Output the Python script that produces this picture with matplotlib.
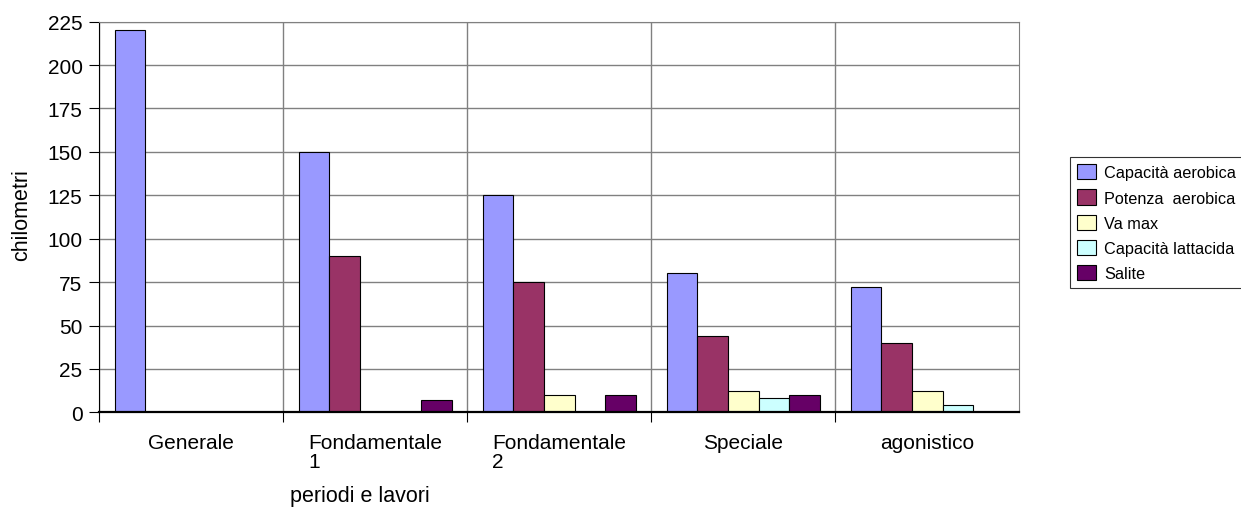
import numpy as np
import matplotlib
matplotlib.use("Agg")
import matplotlib.pyplot as plt

plt.rcParams['font.family'] = ['Liberation Sans', 'DejaVu Sans']

# Chilometri per periodo e tipo di lavoro
periodi = ["Generale", "Fondamentale\n1", "Fondamentale\n2", "Speciale", "agonistico"]
lavori = ["Capacità aerobica", "Potenza  aerobica", "Va max", "Capacità lattacida", "Salite"]
capacita_aerobica = [220, 150, 125, 80, 72]
potenza_aerobica = [0, 90, 75, 44, 40]
va_max = [0, 0, 10, 12, 12]
capacita_lattacida = [0, 0, 0, 8, 4]
salite = [0, 7, 10, 10, 0]
colori = ["#9999FF", "#993366", "#FFFFCC", "#CCFFFF", "#660066"]

serie = [capacita_aerobica, potenza_aerobica, va_max, capacita_lattacida, salite]

fig = plt.figure(figsize=(12.41, 5.10), dpi=100)
ax = fig.add_axes([0.080, 0.1896, 0.7413, 0.7659])

x = np.arange(len(periodi))
larghezza = 1 / 6
for i, (valori, nome, col) in enumerate(zip(serie, lavori, colori)):
    ax.bar(x + (i - 2) * larghezza, valori, width=larghezza, color=col,
           edgecolor="black", linewidth=0.8, label=nome, zorder=2)

ax.set_xlim(-0.5, len(periodi) - 0.5)
ax.set_ylim(0, 225)
ax.set_yticks(np.arange(0, 226, 25))

# etichette al centro delle categorie, tacche ai bordi (non sull'ultimo)
ax.set_xticks(x)
ax.set_xticklabels(periodi, fontsize=15, multialignment="left", linespacing=1.0)
ax.set_xticks(np.arange(-0.5, len(periodi) - 1), minor=True)
ax.tick_params(axis="x", which="major", length=0, pad=15)
ax.tick_params(axis="x", which="minor", length=7, width=0.8, direction="out")
ax.tick_params(axis="y", length=7, width=0.8, direction="out", labelsize=15, pad=5)

ax.grid(True, axis="y", color="#808080", linewidth=1.0, zorder=0)
ax.grid(True, axis="x", which="minor", color="#808080", linewidth=1.0, zorder=0)
ax.set_axisbelow(True)

for lato in ["top", "right"]:
    ax.spines[lato].set_color("#808080")
ax.spines["left"].set_linewidth(0.8)
ax.spines["bottom"].set_linewidth(1.6)

ax.set_ylabel("chilometri", fontsize=15.5)
ax.yaxis.set_label_coords(-0.084, 0.508)
ax.yaxis.label.set_verticalalignment("center")
ax.set_xlabel("periodi e lavori", fontsize=15.5)
ax.xaxis.set_label_coords(0.283, -0.214)
ax.xaxis.label.set_verticalalignment("center")

leg = fig.legend(loc="upper left", bbox_to_anchor=(1070 / 1241, 1 - 158 / 510),
                 fontsize=11.7, frameon=True, fancybox=False, handlelength=1.15,
                 handleheight=1.05, handletextpad=0.5, labelspacing=0.56,
                 borderpad=0.45, borderaxespad=0)
leg.get_frame().set_edgecolor("black")
leg.get_frame().set_linewidth(0.8)

fig.savefig("out.png", dpi=100)
